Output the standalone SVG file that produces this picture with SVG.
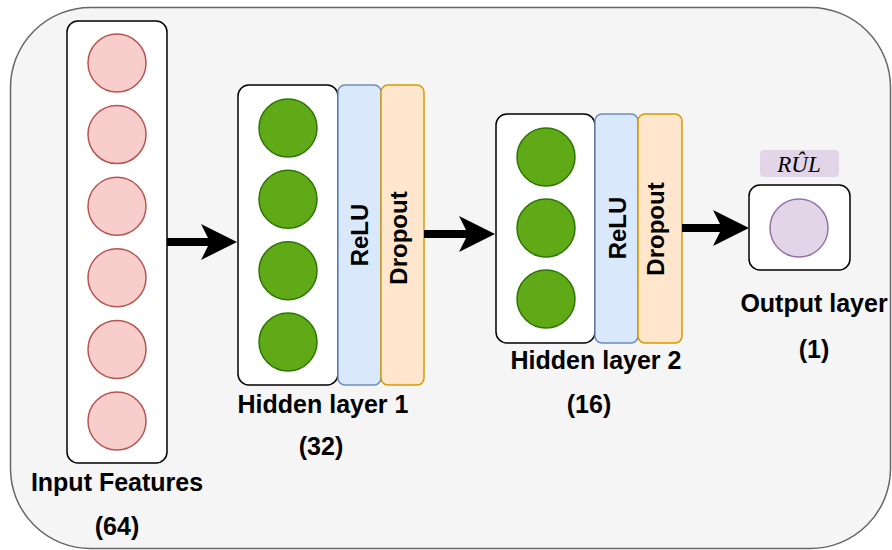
<svg xmlns="http://www.w3.org/2000/svg" width="892" height="550" viewBox="0 0 892 550">
<defs>
<style>
.frame{fill:#ffffff;stroke:#000000;stroke-width:1.5}
.inp{fill:#f8cecc;stroke:#b85450;stroke-width:1.5}
.hid{fill:#60a917;stroke:#2d7600;stroke-width:1.5}
.out{fill:#e1d5e7;stroke:#9673a6;stroke-width:1.5}
.relu{fill:#dae8fc;stroke:#6c8ebf;stroke-width:1.5}
.drop{fill:#ffe6cc;stroke:#d79b00;stroke-width:1.5}
.lbl{font-family:"Liberation Sans",Arial,sans-serif;font-weight:bold;font-size:25px;fill:#000000;text-anchor:middle}
.rot{font-family:"Liberation Sans",Arial,sans-serif;font-weight:bold;font-size:24px;fill:#000000;text-anchor:middle}
.conn{stroke:#000000;stroke-width:8;fill:none;marker-end:url(#ah)}
</style>
<marker id="ah" viewBox="0 0 36 36" refX="9" refY="18" markerWidth="36" markerHeight="36" markerUnits="userSpaceOnUse" orient="auto">
<path d="M0,0 L36,18 L0,36 L9,18 Z" fill="#000000"/>
</marker>
</defs>
<rect id="background" x="10.5" y="7.5" width="880" height="541" rx="80" ry="80" fill="#f5f5f5" stroke="#666666" stroke-width="1.5"/>

<g id="input-layer">
<rect class="frame" x="67" y="21" width="100" height="442" rx="11"/>
<circle class="inp" cx="117" cy="63" r="29"/>
<circle class="inp" cx="117" cy="134.6" r="29"/>
<circle class="inp" cx="117" cy="206.2" r="29"/>
<circle class="inp" cx="117" cy="277.8" r="29"/>
<circle class="inp" cx="117" cy="349.4" r="29"/>
<circle class="inp" cx="117" cy="421" r="29"/>
<text class="lbl" x="117" y="491">Input Features</text>
<text class="lbl" x="117" y="535">(64)</text>
</g>

<g id="hidden-layer-1">
<rect class="frame" x="238" y="85" width="100" height="300" rx="11"/>
<circle class="hid" cx="288" cy="128" r="29"/>
<circle class="hid" cx="288" cy="199.3" r="29"/>
<circle class="hid" cx="288" cy="270.7" r="29"/>
<circle class="hid" cx="288" cy="342" r="29"/>
<rect class="relu" x="338" y="85" width="43" height="300" rx="7"/>
<rect class="drop" x="381" y="85" width="43" height="300" rx="7"/>
<text class="rot" transform="translate(368,235) rotate(-90)">ReLU</text>
<text class="rot" transform="translate(407,238) rotate(-90)">Dropout</text>
<text class="lbl" x="323" y="413">Hidden layer 1</text>
<text class="lbl" x="321" y="455">(32)</text>
</g>

<g id="hidden-layer-2">
<rect class="frame" x="496" y="114" width="99" height="229" rx="11"/>
<circle class="hid" cx="546" cy="157" r="29"/>
<circle class="hid" cx="546" cy="228" r="29"/>
<circle class="hid" cx="546" cy="299" r="29"/>
<rect class="relu" x="595" y="114" width="43" height="229" rx="7"/>
<rect class="drop" x="638" y="114" width="44" height="229" rx="7"/>
<text class="rot" transform="translate(626,228) rotate(-90)">ReLU</text>
<text class="rot" transform="translate(664,229) rotate(-90)">Dropout</text>
<text class="lbl" x="596" y="369">Hidden layer 2</text>
<text class="lbl" x="589" y="413">(16)</text>
</g>

<g id="output-layer">
<rect x="760" y="150" width="79" height="27" rx="4" fill="#e1d5e7"/>
<text x="799" y="172" font-family="'Liberation Serif','Times New Roman',serif" font-style="italic" font-size="23" text-anchor="middle" fill="#000000">RÛL</text>
<rect class="frame" x="749" y="185" width="101" height="85" rx="11"/>
<circle class="out" cx="799" cy="228" r="29"/>
<text class="lbl" x="814" y="312">Output layer</text>
<text class="lbl" x="814" y="358">(1)</text>
</g>

<g id="connectors">
<line class="conn" x1="167" y1="242" x2="210" y2="242"/>
<line class="conn" x1="424" y1="234" x2="468" y2="234"/>
<line class="conn" x1="682" y1="228" x2="722" y2="228"/>
</g>
</svg>
